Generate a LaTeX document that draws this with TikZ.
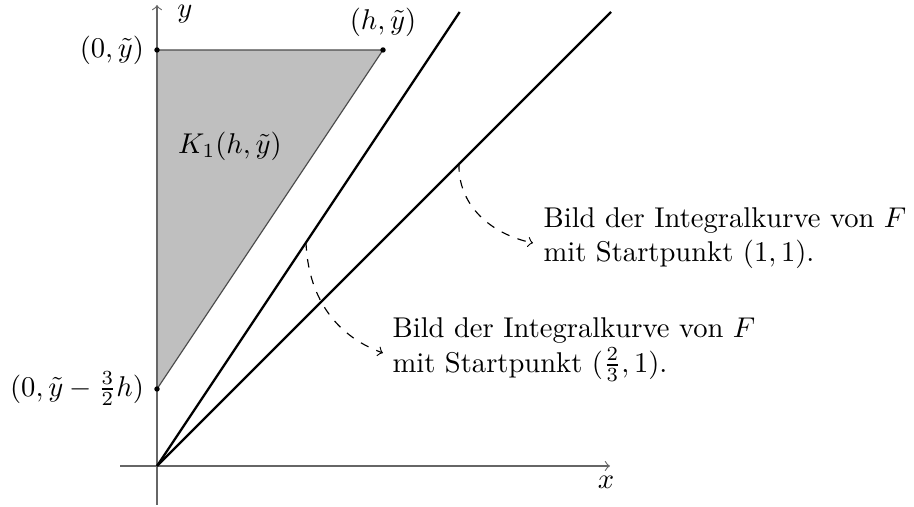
\documentclass[tikz,border=0pt]{standalone}
\begin{document}
\begin{tikzpicture}[x=0.0123cm,y=-0.0123cm,
  axis/.style={draw=black!60,thin,->},
  ray/.style={draw=black,thick},
  pt/.style={circle,fill=black,inner sep=0pt,minimum size=1.9pt},
  note/.style={align=left,anchor=west,inner sep=0pt},
  hint/.style={dashed,thin,->}]
\useasboundingbox (0,0) rectangle (914,507);
\coordinate (O) at (157,466);
\coordinate (xs) at (120,466);
\coordinate (xe) at (610,466);
\coordinate (ys) at (157,505);
\coordinate (ye) at (157,5);
\coordinate (A) at (157,50);
\coordinate (B) at (383,50);
\coordinate (C) at (157,389);
\coordinate (L1) at (459.7,12);
\coordinate (L2) at (611,12);
\coordinate (P1) at (459,163);
\coordinate (P2) at (306,242);
\coordinate (T1) at (533,243);
\coordinate (T2) at (383,353);
\fill[black!25,draw=black!70,thin] (A) -- (B) -- (C) -- cycle;
\draw[axis] (xs) -- (xe);
\draw[axis] (ys) -- (ye);
\node (xl) at (606,482) {$x$};
\node (yl) at (185,14) {$y$};
\draw[ray] (O) -- (L1);
\draw[ray] (O) -- (L2);
\node[pt] (pA) at (A) {};
\node[pt] (pB) at (B) {};
\node[pt] (pC) at (C) {};
\node[left=1pt] (lA) at (A) {$(0,\tilde y)$};
\node[above=1pt] (lB) at (B) {$(h,\tilde y)$};
\node[left=1pt] (lC) at (C) {$(0,\tilde y-\frac{3}{2}h)$};
\node (K) at (230,146) {$K_1(h,\tilde y)$};
\node[note] (n1) at (543,238) {Bild der Integralkurve von $F$\\mit Startpunkt $(1,1)$.};
\node[note] (n2) at (392,350) {Bild der Integralkurve von $F$\\mit Startpunkt $(\frac{2}{3},1)$.};
\draw[hint] (P1) to[out=-92,in=168] (T1);
\draw[hint] (P2) to[out=-88,in=160] (T2);
\end{tikzpicture}
\end{document}
